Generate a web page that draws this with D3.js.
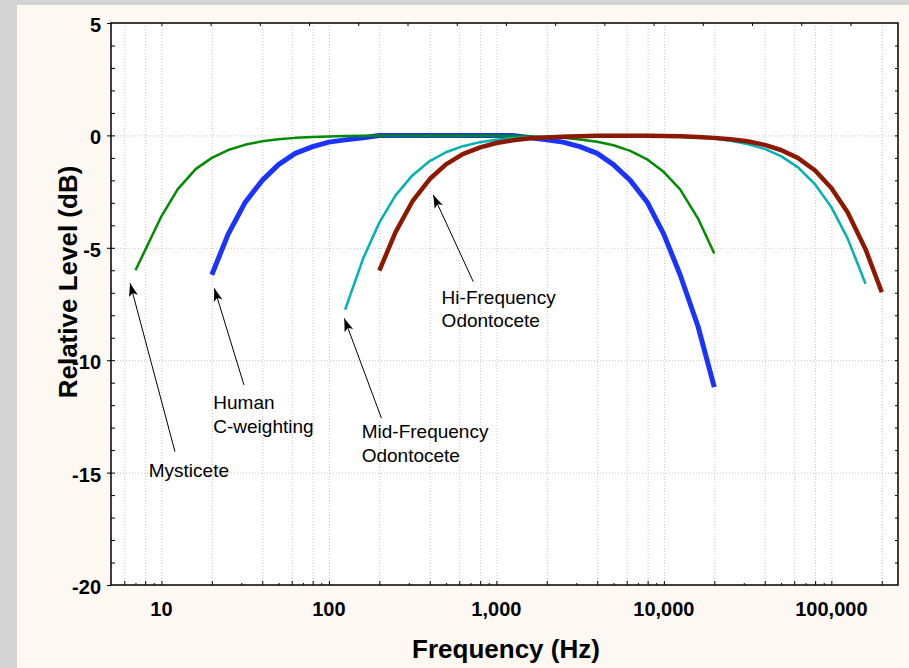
<!DOCTYPE html>
<html>
<head>
<meta charset="utf-8">
<script src="https://cdn.jsdelivr.net/npm/d3@7"></script>
<style>
    html, body { margin: 0; padding: 0; background: #d4d4d4; }
    svg { display: block; font-family: "Liberation Sans", Arial, sans-serif; }
</style>
</head>
<body>
<div id="chart"></div>
<script>
// Frequencies (Hz) and relative levels (dB)
const mysticeteFreq = [7, 10, 12.5, 16, 20, 25, 31.5, 40, 50, 63, 80, 100, 125, 160, 200, 250, 315, 400, 500, 630,
    800, 1000, 1250, 1600, 2000, 2500, 3150, 4000, 5000, 6300, 8000, 10000, 12500, 16000, 20000];
const mysticeteDb = [-6.0, -3.6, -2.4, -1.5, -1.0, -0.65, -0.42, -0.26, -0.17, -0.11, -0.07, -0.05, -0.03, -0.02, -0.02, -0.01, -0.01, -0.01, -0.01, -0.01,
    -0.02, -0.02, -0.03, -0.05, -0.07, -0.11, -0.18, -0.28, -0.44, -0.69, -1.08, -1.63, -2.4, -3.7, -5.25];

const humanFreq = [20, 25, 31.5, 40, 50, 63, 80, 100, 125, 160, 200, 250, 315, 400, 500, 630, 800, 1000,
    1250, 1600, 2000, 2500, 3150, 4000, 5000, 6300, 8000, 10000, 12500, 16000, 20000];
const humanDb = [-6.2, -4.4, -3.0, -2.0, -1.3, -0.8, -0.5, -0.3, -0.2, -0.1, 0, 0, 0, 0, 0, 0, 0, 0,
    0, -0.1, -0.2, -0.3, -0.5, -0.8, -1.3, -2.0, -3.0, -4.4, -6.2, -8.5, -11.2];

const midFreq = [125, 160, 200, 250, 315, 400, 500, 630, 800, 1000, 1250, 1600, 2000, 2500, 3150, 4000, 5000, 6300,
    8000, 10000, 12500, 16000, 20000, 25000, 31500, 40000, 50000, 63000, 80000, 100000, 125000, 160000];
const midDb = [-7.75, -5.48, -3.88, -2.67, -1.78, -1.14, -0.75, -0.48, -0.30, -0.19, -0.12, -0.08, -0.05, -0.03, -0.02, -0.02, -0.02, -0.02,
    -0.03, -0.04, -0.06, -0.1, -0.15, -0.24, -0.38, -0.6, -0.92, -1.41, -2.18, -3.19, -4.58, -6.6];

const hiFreq = [200, 250, 315, 400, 500, 630, 800, 1000, 1250, 1600, 2000, 2500, 3150, 4000, 5000, 6300, 8000,
    10000, 12500, 16000, 20000, 25000, 31500, 40000, 50000, 63000, 80000, 100000, 125000, 160000, 200000];
const hiDb = [-6.02, -4.3, -2.94, -1.94, -1.29, -0.83, -0.53, -0.34, -0.22, -0.13, -0.09, -0.06, -0.04, -0.02, -0.02, -0.02, -0.02,
    -0.03, -0.04, -0.07, -0.11, -0.17, -0.26, -0.42, -0.65, -1.0, -1.56, -2.34, -3.42, -5.06, -6.98];

const xTickValues = [10, 100, 1000, 10000, 100000];
const yTickValues = [5, 0, -5, -10, -15, -20];

// draw order: blue below, red on top
const series = [
    { name: "Human C-weighting", freq: humanFreq, db: humanDb, color: "#1a33ff", width: 5 },
    { name: "Mysticete", freq: mysticeteFreq, db: mysticeteDb, color: "#008c00", width: 2.5 },
    { name: "Mid-Frequency Odontocete", freq: midFreq, db: midDb, color: "#00b2b2", width: 2.5 },
    { name: "Hi-Frequency Odontocete", freq: hiFreq, db: hiDb, color: "#8c1800", width: 4.5 }
];

// callouts in data units: text anchor, arrow tail and arrow tip
const notes = [
    { lines: ["Mysticete"], text: [8.4, -15.2], tail: [12.05, -14.07], tip: [6.5, -6.58] },
    { lines: ["Human", "C-weighting"], text: [20.4, -12.18], tail: [31.1, -11.1], tip: [20.7, -6.8] },
    { lines: ["Mid-Frequency", "Odontocete"], text: [157, -13.47], tail: [206, -12.58], tip: [123.6, -8.14] },
    { lines: ["Hi-Frequency", "Odontocete"], text: [471, -7.5], tail: [728, -6.51], tip: [420, -2.65] }
];

const width = 909, height = 668;
const margin = { top: 23, right: 11, bottom: 83, left: 111 };

const svg = d3.select("#chart").append("svg")
    .attr("width", width)
    .attr("height", height);

// cream panel
svg.append("rect")
    .attr("x", 17).attr("y", 5)
    .attr("width", width - 17).attr("height", height - 5)
    .attr("fill", "#fdf8f1");

const x = d3.scaleLog()
    .domain([5, 250000])
    .range([margin.left, width - margin.right]);

const y = d3.scaleLinear()
    .domain([-20, 5])
    .range([height - margin.bottom, margin.top]);

const x0 = x.range()[0], x1 = x.range()[1];
const y0 = y.range()[0], y1 = y.range()[1];

svg.append("rect")
    .attr("x", x0).attr("y", y1)
    .attr("width", x1 - x0).attr("height", y0 - y1)
    .attr("fill", "#fff");

// grid lines
const decades = [1, 10, 100, 1000, 10000, 100000];
const gridFreqs = [];
const minorTicks = [];
decades.forEach(dec => {
    for (let m = 1; m <= 9; m++) {
        const f = m * dec;
        if (f <= 5 || f >= 250000) continue;
        const big = [1, 2, 4, 6, 8].includes(m);
        if (big) gridFreqs.push(f);
        minorTicks.push({ f, big });
    }
});

const grid = svg.append("g")
    .attr("stroke", "#c4c4c4")
    .attr("stroke-width", 1)
    .attr("stroke-dasharray", "1,2");

grid.selectAll("line.v")
    .data(gridFreqs)
    .enter().append("line")
    .attr("class", "v")
    .attr("x1", d => x(d) + 0.5).attr("x2", d => x(d) + 0.5)
    .attr("y1", y1).attr("y2", y0);

grid.selectAll("line.h")
    .data([0, -5, -10, -15])
    .enter().append("line")
    .attr("class", "h")
    .attr("x1", x0).attr("x2", x1)
    .attr("y1", d => y(d) + 0.5).attr("y2", d => y(d) + 0.5);

// ticks
const ticks = svg.append("g").attr("stroke", "#000").attr("stroke-width", 1);

// bottom, pointing inward
ticks.selectAll("line.b")
    .data(minorTicks)
    .enter().append("line")
    .attr("class", "b")
    .attr("x1", d => x(d.f) + 0.5).attr("x2", d => x(d.f) + 0.5)
    .attr("y1", y0).attr("y2", d => y0 - (d.big ? 4 : 2));

// top: evenly spaced small marks
const topScale = d3.scaleLinear().domain([0, 14]).range([x(10), x(130000)]);
ticks.selectAll("line.t")
    .data(d3.range(15))
    .enter().append("line")
    .attr("class", "t")
    .attr("x1", d => topScale(d) + 0.5).attr("x2", d => topScale(d) + 0.5)
    .attr("y1", y1).attr("y2", y1 + 3);

// left and right every 1 dB
const dbTicks = d3.range(-19, 5);
ticks.selectAll("line.l")
    .data(dbTicks)
    .enter().append("line")
    .attr("class", "l")
    .attr("x1", x0).attr("x2", x0 + 4)
    .attr("y1", d => y(d) + 0.5).attr("y2", d => y(d) + 0.5);

ticks.selectAll("line.r")
    .data(dbTicks)
    .enter().append("line")
    .attr("class", "r")
    .attr("x1", x1 - 3).attr("x2", x1)
    .attr("y1", d => y(d) + 0.5).attr("y2", d => y(d) + 0.5);

ticks.selectAll("line.lo")
    .data(yTickValues)
    .enter().append("line")
    .attr("class", "lo")
    .attr("x1", x0 - 4).attr("x2", x0)
    .attr("y1", d => y(d) + 0.5).attr("y2", d => y(d) + 0.5);

// tick labels
svg.append("g")
    .selectAll("text")
    .data(xTickValues)
    .enter().append("text")
    .attr("x", d => x(d))
    .attr("y", 616)
    .attr("text-anchor", "middle")
    .attr("font-size", 20)
    .attr("font-weight", "bold")
    .text(d => d3.format(",")(d));

svg.append("g")
    .selectAll("text")
    .data(yTickValues)
    .enter().append("text")
    .attr("x", x0 - 10)
    .attr("y", d => y(d) + 9)
    .attr("text-anchor", "end")
    .attr("font-size", 20)
    .attr("font-weight", "bold")
    .text(d => d);

// axis titles
svg.append("text")
    .attr("x", 506)
    .attr("y", 658)
    .attr("text-anchor", "middle")
    .attr("font-size", 26)
    .attr("font-weight", "bold")
    .text("Frequency (Hz)");

svg.append("text")
    .attr("transform", "translate(77,282) rotate(-90)")
    .attr("text-anchor", "middle")
    .attr("font-size", 26)
    .attr("font-weight", "bold")
    .text("Relative Level (dB)");

// curves
const line = d3.line()
    .x(d => x(d[0]))
    .y(d => y(d[1]));

svg.append("g")
    .selectAll("path")
    .data(series)
    .enter().append("path")
    .attr("d", s => line(d3.zip(s.freq, s.db)))
    .attr("fill", "none")
    .attr("stroke", s => s.color)
    .attr("stroke-width", s => s.width)
    .attr("stroke-linejoin", "round");

// plot frame
svg.append("rect")
    .attr("x", x0).attr("y", y1)
    .attr("width", x1 - x0).attr("height", y0 - y1)
    .attr("fill", "none")
    .attr("stroke", "#000")
    .attr("stroke-width", 1.5);

// callouts
svg.append("defs").append("marker")
    .attr("id", "head")
    .attr("viewBox", "-14 -6 15 12")
    .attr("refX", 0).attr("refY", 0)
    .attr("markerWidth", 15).attr("markerHeight", 12)
    .attr("markerUnits", "userSpaceOnUse")
    .attr("orient", "auto")
    .append("path")
    .attr("d", "M0,0L-13,-4.5L-10,0L-13,4.5Z")
    .attr("fill", "#000");

const note = svg.append("g").selectAll("g")
    .data(notes)
    .enter().append("g");

note.append("line")
    .attr("x1", d => x(d.tail[0])).attr("y1", d => y(d.tail[1]))
    .attr("x2", d => x(d.tip[0])).attr("y2", d => y(d.tip[1]))
    .attr("stroke", "#000")
    .attr("stroke-width", 1)
    .attr("marker-end", "url(#head)");

note.append("text")
    .attr("x", d => x(d.text[0]))
    .attr("y", d => y(d.text[1]))
    .attr("font-size", 19)
    .attr("fill", "#000")
    .selectAll("tspan")
    .data(d => d.lines.map(t => ({ t, x: x(d.text[0]) })))
    .enter().append("tspan")
    .attr("x", d => d.x)
    .attr("dy", (d, i) => i === 0 ? 0 : 23.4)
    .text(d => d.t);
</script>
</body>
</html>
